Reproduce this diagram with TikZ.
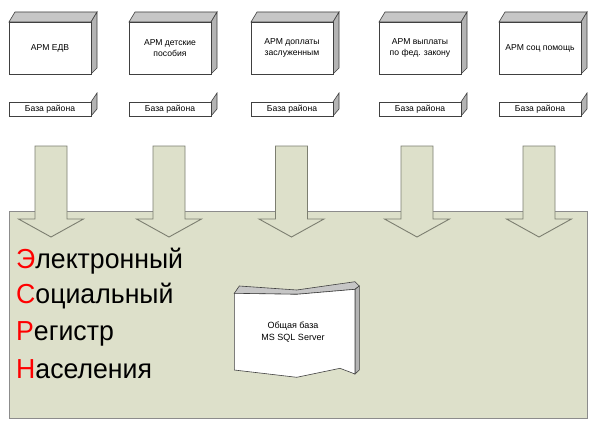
\documentclass[tikz,border=0pt]{standalone}
\usepackage{fontspec}
\setmainfont{Liberation Sans}
\begin{document}
\begin{tikzpicture}[x=1pt,y=-1pt,
  greenfill/.style={fill=bg, draw=edge, line width=0.9pt},
  front/.style={fill=white, draw=black!75, line width=0.6pt},
  sideface/.style={fill=sidegray, draw=black!75, line width=0.6pt},
  topface/.style={fill=topgray, draw=black!75, line width=0.6pt},
  lbl/.style={font=\fontsize{8.6}{11}\selectfont, align=center, inner sep=0pt},
  big/.style={font=\fontsize{27.5}{30}\selectfont, anchor=base west, inner sep=0pt, xscale=0.97}
]
\definecolor{bg}{HTML}{DDE0CA}
\definecolor{edge}{HTML}{7C7E70}
\definecolor{sidegray}{HTML}{B4B4B4}
\definecolor{topgray}{HTML}{C6C6C6}
\definecolor{rred}{HTML}{FF0000}
\useasboundingbox (0,0) rectangle (600,428);
\fill[white] (0,0) rectangle (600,428);

% big rectangle
\draw[greenfill, draw=gray!90] (9,211) rectangle (587,418);

% arrows
\foreach \c [count=\i] in {51,169,291.5,417,539}{
  \draw[greenfill] (\c-16,146) -- (\c+16,146) -- (\c+16,219) -- (\c+32.5,219)
     -- (\c,237) -- (\c-32.5,219) -- (\c-16,219) -- cycle;
}

% top boxes and base boxes
\foreach \x/\t [count=\i] in {9/{АРМ ЕДВ},129/{АРМ детские\\пособия},251/{АРМ доплаты\\заслуженным},379/{АРМ выплаты\\по фед. закону},499/{АРМ соц помощь}}{
  \draw[topface] (\x,22) -- (\x+6,12) -- (\x+88,12) -- (\x+82,22) -- cycle;
  \draw[sideface] (\x+82,22) -- (\x+88,12) -- (\x+88,68) -- (\x+82,74) -- cycle;
  \draw[front] (\x,22) rectangle (\x+82,74);
  \node[lbl] (arm\i) at (\x+41,48) {\t};
  \draw[sideface] (\x+82,102) -- (\x+88,93) -- (\x+88,109) -- (\x+82,116) -- cycle;
  \draw[front] (\x,102) rectangle (\x+82,116);
  \node[lbl] (base\i) at (\x+41,109.5) {База района};
}

% central database shape
\draw[topface] (234.3,293.3) -- (239.3,286) -- (296.7,290) -- (355,281.7) -- (359.3,286)
   -- (355,289.3) -- (296.7,294.3) -- cycle;
\draw[sideface] (355,289.3) -- (359.3,286) -- (359.3,370) -- (355,374) -- cycle;
\draw[front] (234.3,293.3) -- (296.7,294.3) -- (355,289.3) -- (355,374) -- (340,368.3)
   -- (296.7,377.3) -- (234.3,370) -- cycle;
\node[lbl, font=\fontsize{9}{12}\selectfont] (db) at (293,332) {Общая база\\MS SQL Server};

% big title text
\node[big] (l1) at (16,268) {\textcolor{rred}{Э}лектронный};
\node[big] (l2) at (16,303) {\textcolor{rred}{С}оциальный};
\node[big] (l3) at (16,340) {\textcolor{rred}{Р}егистр};
\node[big] (l4) at (16,378) {\textcolor{rred}{Н}аселения};
\end{tikzpicture}
\end{document}
